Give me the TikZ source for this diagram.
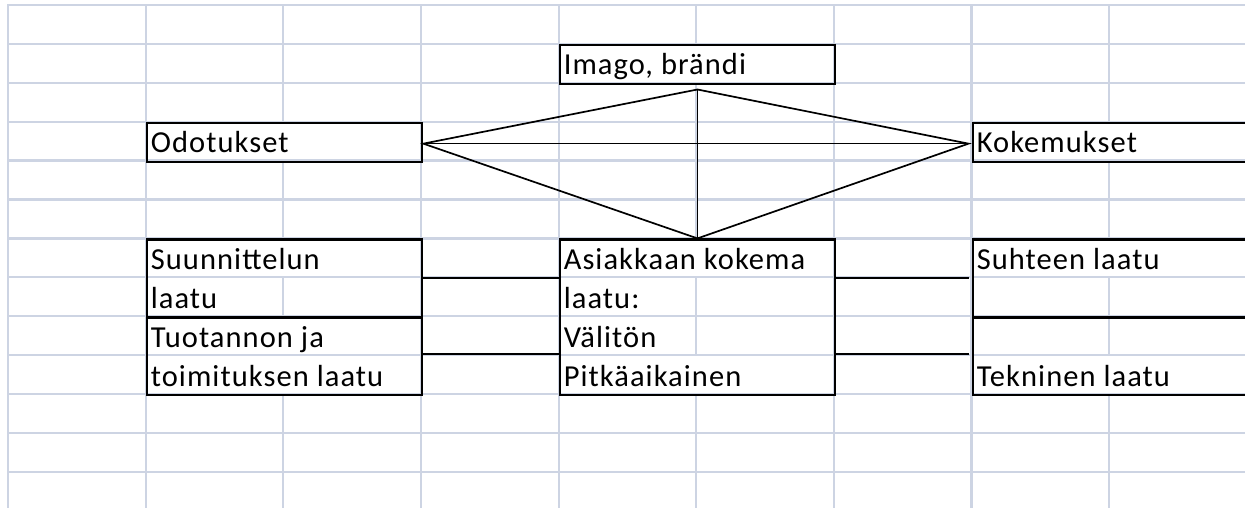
\documentclass[tikz,border=0pt]{standalone}
\usepackage{fontspec}
\setmainfont{Carlito}[LetterSpace=3.5]
\begin{document}
\begin{tikzpicture}[x=1pt,y=-1pt,
  gridline/.style={draw=gridc,line width=2.2pt},
  boxst/.style={draw=black,line width=2.4pt,rectangle,inner sep=0pt,anchor=north west},
  link/.style={draw=black,line width=1.7pt},
  lbl/.style={anchor=base west,inner sep=0pt,font=\fontsize{30.5}{36}\selectfont},
  patch/.style={fill=white,draw=none}]
\definecolor{gridc}{RGB}{205,212,227}
\useasboundingbox (0,0) rectangle (1245,508);
\clip (0,0) rectangle (1245,508);
% grid
\foreach \i in {0,...,9}{
  \draw[gridline] ({8+137.65*\i},5) -- ({8+137.65*\i},510);
}
\foreach \j in {0,...,12}{
  \draw[gridline] (7,{5+38.9*\j}) -- (1250,{5+38.9*\j});
}
% hide grid where text overflows
\foreach \x/\a/\b in {696.25/43.9/82.8, 696.25/238.4/277.3, 696.25/355.1/394,
  283.3/121.7/160.6, 283.3/238.4/277.3, 283.3/316.2/355.1, 283.3/355.1/394,
  1109.2/121.7/160.6, 1109.2/238.4/277.3, 1109.2/355.1/394}{
  \fill[patch] (\x-2.5,\a+1.2) rectangle (\x+2.5,\b-1.2);
}
% boxes
\node[boxst,minimum width=275.3pt,minimum height=38.9pt] (imago) at (558.6,43.9) {};
\node[boxst,minimum width=275.3pt,minimum height=38.9pt] (odot) at (145.65,121.7) {};
\node[boxst,minimum width=290pt,minimum height=38.9pt] (koke) at (971.55,121.7) {};
\node[boxst,minimum width=275.3pt,minimum height=77.8pt] (suun) at (145.65,238.4) {};
\node[boxst,minimum width=275.3pt,minimum height=77.8pt] (tuot) at (145.65,316.2) {};
\node[boxst,minimum width=275.3pt,minimum height=155.6pt] (asiak) at (558.6,238.4) {};
\node[boxst,minimum width=290pt,minimum height=77.8pt] (suht) at (971.55,238.4) {};
\node[boxst,minimum width=290pt,minimum height=77.8pt] (tekn) at (971.55,316.2) {};
% diamond
\coordinate (dt) at ([yshift=-4.3pt]imago.south);
\coordinate (dl) at ([yshift=-1.3pt]odot.east);
\coordinate (dr) at ([xshift=-3pt,yshift=-1.3pt]koke.west);
\coordinate (db) at (asiak.north);
\draw[link] (dl) -- (dt) -- (dr) -- (db) -- cycle;
\draw[link] (dl) -- (dr);
\draw[link] (dt) -- (db);
% side connectors
\coordinate (l1) at ([yshift=0.6pt]suun.east);
\coordinate (l2) at ([yshift=2.4pt]tuot.east);
\coordinate (r1) at ([xshift=-3pt,yshift=0.6pt]suht.west);
\coordinate (r2) at ([xshift=-3pt,yshift=2.4pt]tekn.west);
\draw[link] (l1) -- (asiak.west |- l1);
\draw[link] (l2) -- (asiak.west |- l2);
\draw[link] (asiak.east |- r1) -- (r1);
\draw[link] (asiak.east |- r2) -- (r2);
% labels
\node[lbl] (timago) at (563.6,74.8) {Imago, brändi};
\node[lbl] (todot) at (150.65,152.6) {Odotukset};
\node[lbl] (tkoke) at (976.55,152.6) {Kokemukset};
\node[lbl] (tsuun1) at (150.65,269.3) {Suunnittelun};
\node[lbl] (tsuun2) at (150.65,308.2) {laatu};
\node[lbl] (ttuot1) at (150.65,347.1) {Tuotannon ja};
\node[lbl] (ttuot2) at (150.65,386) {toimituksen laatu};
\node[lbl] (tas1) at (563.6,269.3) {Asiakkaan kokema};
\node[lbl] (tas2) at (563.6,308.2) {laatu:};
\node[lbl] (tas3) at (563.6,347.1) {Välitön};
\node[lbl] (tas4) at (563.6,386) {Pitkäaikainen};
\node[lbl] (tsuht) at (976.55,269.3) {Suhteen laatu};
\node[lbl] (ttekn) at (976.55,386) {Tekninen laatu};
\end{tikzpicture}
\end{document}
